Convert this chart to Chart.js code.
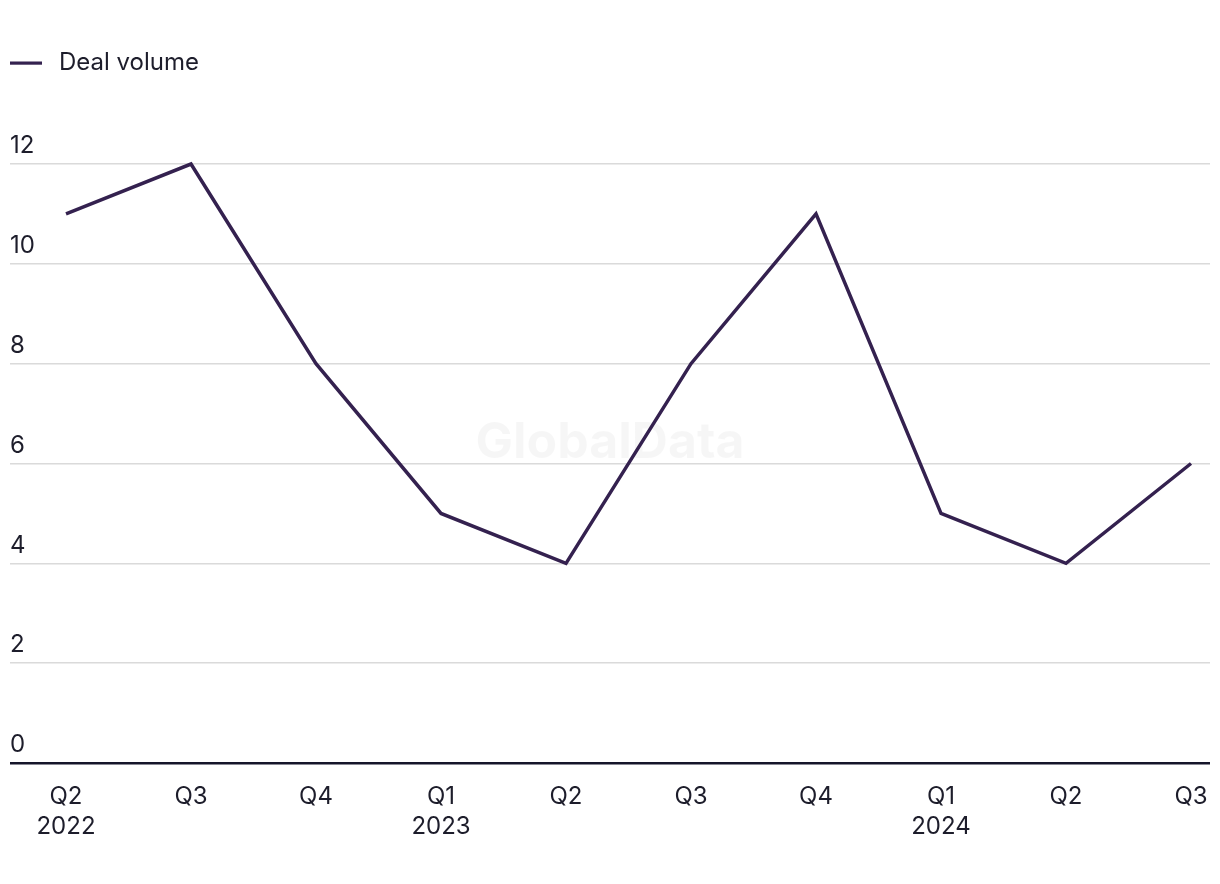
<!DOCTYPE html>
<html>
<head>
<meta charset="utf-8">
<script src="https://cdn.jsdelivr.net/npm/chart.js@4.4.1/dist/chart.umd.min.js"></script>
<style>
  html, body { margin: 0; padding: 0; background: #ffffff; }
  #wrap { width: 1220px; height: 884px; position: relative; }
</style>
</head>
<body>
<div id="wrap"><canvas id="c"></canvas></div>
<script>
const categories = [["Q2", "2022"], "Q3", "Q4", ["Q1", "2023"], "Q2", "Q3", "Q4", ["Q1", "2024"], "Q2", "Q3"];
const dealVolume = [11, 12, 8, 5, 4, 8, 11, 5, 4, 6];
const yTicks = [0, 2, 4, 6, 8, 10, 12];
const seriesName = "Deal volume";

const lineColor = "#34214f";
const textColor = "#1d1d2b";
const gridColor = "#dadada";
const zeroColor = "#15152a";
const FONT = "Inter, 'Noto Sans', sans-serif";

// legend marker: 32px line inside a 37px-wide box
const marker = document.createElement("canvas");
marker.width = 37; marker.height = 4;
(function () {
  const m = marker.getContext("2d");
  m.fillStyle = lineColor;
  m.fillRect(0, 0.5, 32, 3.2);
})();

const watermark = {
  id: "watermark",
  beforeDatasetsDraw(chart) {
    const { ctx, chartArea } = chart;
    ctx.save();
    ctx.font = "bold 50px " + FONT;
    ctx.fillStyle = "rgba(0,0,0,0.035)";
    ctx.textAlign = "center";
    ctx.textBaseline = "middle";
    ctx.fillText("GlobalData", (chartArea.left + chartArea.right) / 2, 443);
    ctx.restore();
  }
};

const legendHeight = {
  id: "legendHeight",
  afterInit(chart) {
    const lg = chart.legend;
    if (!lg) return;
    const orig = lg.fit.bind(lg);
    lg.fit = function () { orig(); this.height = 113; };
  }
};

new Chart(document.getElementById("c"), {
  type: "line",
  data: {
    datasets: [{
      label: seriesName,
      data: dealVolume.map((v, i) => ({ x: i, y: v })),
      borderColor: lineColor,
      backgroundColor: lineColor,
      borderWidth: 3.5,
      pointRadius: 0,
      pointHoverRadius: 0,
      pointStyle: marker,
      tension: 0,
      clip: false
    }]
  },
  options: {
    responsive: true,
    maintainAspectRatio: false,
    animation: false,
    layout: { padding: { left: 10, right: 10, top: 51, bottom: 23 } },
    plugins: {
      tooltip: { enabled: false },
      legend: {
        position: "top",
        align: "start",
        labels: {
          usePointStyle: true,
          pointStyleWidth: 37,
          padding: 0,
          color: textColor,
          font: { family: FONT, size: 24 }
        }
      }
    },
    scales: {
      x: {
        type: "linear",
        min: -0.448,
        max: 9.152,
        afterBuildTicks: axis => { axis.ticks = categories.map((_, i) => ({ value: i })); },
        afterFit: axis => { axis.paddingLeft = 0; axis.paddingRight = 0; },
        grid: { display: false, drawTicks: false },
        border: { display: false },
        ticks: {
          autoSkip: false,
          maxRotation: 0,
          padding: 19,
          color: textColor,
          font: { family: FONT, size: 24, lineHeight: 1.25 },
          callback: v => categories[v]
        }
      },
      y: {
        min: 0,
        max: 12,
        afterBuildTicks: axis => { axis.ticks = yTicks.map(v => ({ value: v })); },
        grid: {
          drawTicks: false,
          color: c => (c.tick && c.tick.value === 0 ? zeroColor : gridColor),
          lineWidth: c => (c.tick && c.tick.value === 0 ? 2.6 : 1.6)
        },
        border: { display: false },
        ticks: {
          mirror: true,
          padding: 0,
          labelOffset: -18,
          color: textColor,
          font: { family: FONT, size: 24 }
        }
      }
    }
  },
  plugins: [watermark, legendHeight]
});
</script>
</body>
</html>
